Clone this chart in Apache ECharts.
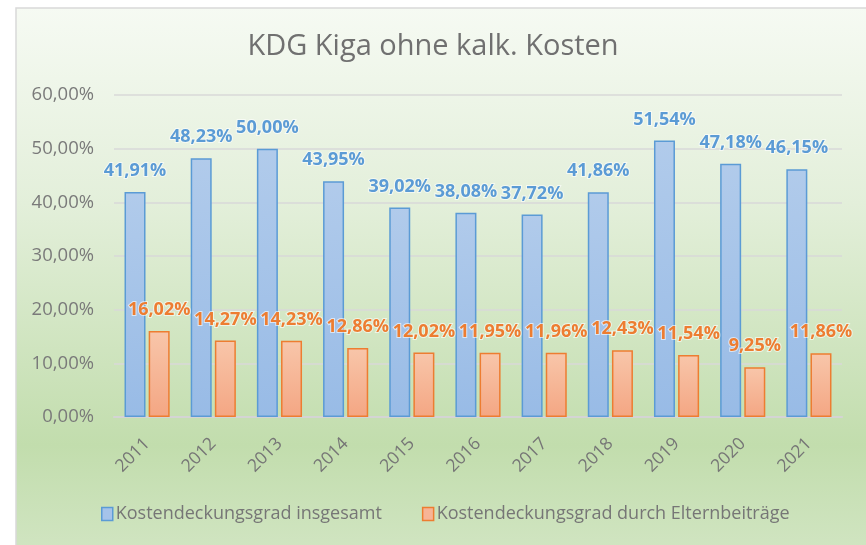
<!DOCTYPE html>
<html>
<head>
<meta charset="utf-8">
<script src="https://cdn.jsdelivr.net/npm/echarts@6/dist/echarts.min.js"></script>
<style>
html,body{margin:0;padding:0;background:#fff;}
#c{width:866px;height:545px;}
</style>
</head>
<body>
<div id="c"></div>
<script>
const categories = ['2011','2012','2013','2014','2015','2016','2017','2018','2019','2020','2021'];
const seriesNames = ['Kostendeckungsgrad insgesamt','Kostendeckungsgrad durch Elternbeiträge'];
const totalValues = [41.91, 48.23, 50.00, 43.95, 39.02, 38.08, 37.72, 41.86, 51.54, 47.18, 46.15];
const parentValues = [16.02, 14.27, 14.23, 12.86, 12.02, 11.95, 11.96, 12.43, 11.54, 9.25, 11.86];
const titleText = 'KDG Kiga ohne kalk. Kosten';

const fmt = v => Number(v).toFixed(2).replace('.', ',') + '%';
const FONT = '"Open Sans", sans-serif';

const chart = echarts.init(document.getElementById('c'), null, {renderer:'canvas'});
chart.setOption({
  backgroundColor: '#ffffff',
  graphic: [{
    type: 'rect', z: -10, silent: true,
    shape: {x: 16, y: 8, width: 880, height: 560},
    style: {
      fill: {type:'linear', x:0, y:0, x2:0, y2:1, colorStops:[
        {offset:0, color:'#f6faf3'},
        {offset:0.35, color:'#e3efda'},
        {offset:0.78, color:'#c2ddad'},
        {offset:1, color:'#d3e6c5'}
      ]},
      stroke: '#d9d9d9', lineWidth: 1.5
    }
  }],
  title: {
    text: titleText, left: 'center', top: 27,
    textStyle: {fontFamily: FONT, fontWeight: 'normal', fontSize: 29, color: '#707070'}
  },
  legend: {
    bottom: 17, left: 96, itemWidth: 11, itemHeight: 13, itemGap: 40,
    textStyle: {fontFamily: FONT, fontSize: 18, color: '#767676', padding:[0,0,0,-2]},
    data: [
      {name: seriesNames[0], icon: 'rect', itemStyle: {color:'#a5c3ea', borderColor:'#5b9bd5', borderWidth:1.5}},
      {name: seriesNames[1], icon: 'rect', itemStyle: {color:'#f7b496', borderColor:'#ed7d31', borderWidth:1.5}}
    ]
  },
  grid: {left: 114, right: 24, top: 95, bottom: 128},
  xAxis: {
    type: 'category', data: categories,
    axisLine: {lineStyle: {color: '#d4d4d4', width: 2}},
    axisTick: {show: false},
    axisLabel: {rotate: 45, fontFamily: FONT, fontSize: 17.5, color: '#767676', margin: 24}
  },
  yAxis: {
    type: 'value', min: 0, max: 60, interval: 10,
    axisLine: {show: false}, axisTick: {show: false},
    splitLine: {lineStyle: {color: '#d9d9d9', width: 1.5}},
    axisLabel: {formatter: fmt, fontFamily: FONT, fontSize: 18.5, color: '#7a7a7a', margin: 20}
  },
  series: [
    {
      name: seriesNames[0], type: 'bar', data: totalValues, barWidth: 21, barGap: '15%',
      itemStyle: {
        color: {type:'linear', x:0, y:0, x2:0, y2:1, colorStops:[{offset:0, color:'#b1cbeb'},{offset:1, color:'#98bbe6'}]},
        borderColor: '#5b9bd5', borderWidth: 1.5
      },
      label: {show: true, position: 'top', distance: 12, formatter: p => fmt(p.value),
        fontFamily: FONT, fontWeight: 'bold', fontSize: 18, color: '#5b9bd5',
        textBorderColor: 'rgba(255,255,255,0.6)', textBorderWidth: 2}
    },
    {
      name: seriesNames[1], type: 'bar', data: parentValues, barWidth: 21,
      itemStyle: {
        color: {type:'linear', x:0, y:0, x2:0, y2:1, colorStops:[{offset:0, color:'#f8c6aa'},{offset:1, color:'#f4a683'}]},
        borderColor: '#ed7d31', borderWidth: 1.5
      },
      label: {show: true, position: 'top', distance: 12, formatter: p => fmt(p.value),
        fontFamily: FONT, fontWeight: 'bold', fontSize: 18, color: '#ed7d31',
        textBorderColor: 'rgba(255,255,255,0.6)', textBorderWidth: 2}
    }
  ]
});
</script>
</body>
</html>
